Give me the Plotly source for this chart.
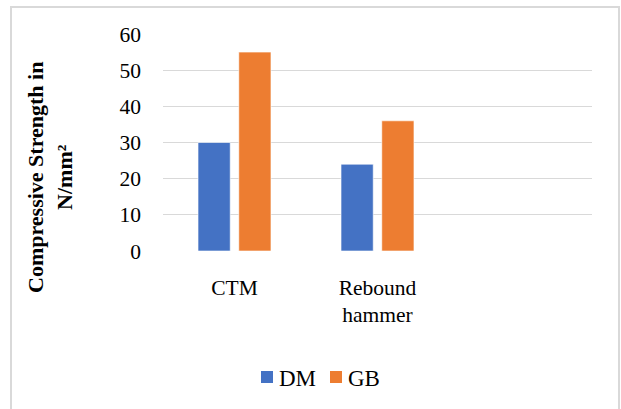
import plotly.graph_objects as go

# Compressive strength by test method
categories = ["CTM", "Rebound<br>hammer", " "]
series_names = ["DM", "GB"]
dm_values = [30, 24, None]
gb_values = [55, 36, None]
y_ticks = [0, 10, 20, 30, 40, 50, 60]
colors = ["#4472C4", "#ED7D31"]

W, H = 621, 409
L, R, T, B = 163, 29, 34, 158
pw, ph = W - L - R, H - T - B


def px(x):
    return (x - L) / pw


def py(y):
    return (H - B - y) / ph


serif = "'Liberation Serif', 'Times New Roman', serif"

fig = go.Figure()
for name, vals, col in zip(series_names, [dm_values, gb_values], colors):
    fig.add_trace(go.Bar(name=name, x=categories, y=vals,
                         marker=dict(color=col, line=dict(color="#ffffff", width=0.6))))

# legend drawn as colour squares + labels beneath the plot
legend_items = [(261, 277), (330, 346)]
shapes = [dict(type="rect", xref="paper", yref="paper",
               x0=px(11), x1=px(619), y0=py(415), y1=py(7),
               line=dict(color="#d9d9d9", width=2), layer="below")]
annotations = [dict(
    text="<b>Compressive Strength in<br>N/mm²</b>",
    textangle=-90, xref="paper", yref="paper",
    x=px(50), y=py(177), xanchor="center", yanchor="middle",
    showarrow=False, font=dict(family=serif, size=22, color="#000000"),
)]
for (sq_x, tx), name, col in zip(legend_items, series_names, colors):
    shapes.append(dict(type="rect", xref="paper", yref="paper",
                       x0=px(sq_x), x1=px(sq_x + 12), y0=py(383), y1=py(371),
                       fillcolor=col, line=dict(width=0)))
    annotations.append(dict(text=name, xref="paper", yref="paper",
                            x=px(tx), y=py(378), xanchor="left", yanchor="middle",
                            showarrow=False,
                            font=dict(family=serif, size=23, color="#000000")))

fig.update_layout(
    width=W, height=H,
    margin=dict(l=L, r=R, t=T, b=B),
    paper_bgcolor="white", plot_bgcolor="white",
    barmode="group", bargap=0.43, bargroupgap=0.21,
    font=dict(family=serif, size=21.5, color="#000000"),
    showlegend=False,
    xaxis=dict(type="category", categoryorder="array", categoryarray=categories,
               showgrid=False, showline=False, ticks="", zeroline=False,
               ticklabelstandoff=21, tickfont=dict(family=serif, size=21.5)),
    yaxis=dict(range=[0, 60], tickvals=y_ticks, showgrid=True, gridcolor="#d9d9d9",
               gridwidth=1.3, zeroline=False, showline=False, ticks="",
               ticklabelstandoff=21, tickfont=dict(family=serif, size=21.5)),
    annotations=annotations,
    shapes=shapes,
)

fig.write_html("out.html")
